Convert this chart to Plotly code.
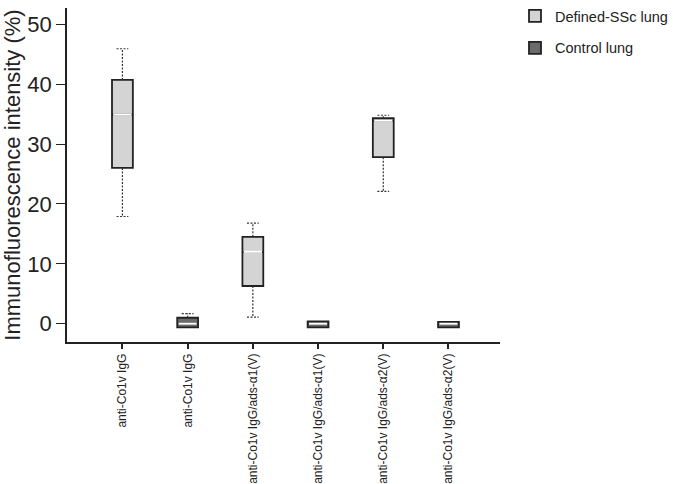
import plotly.graph_objects as go

categories = ["anti-Co1v IgG", "anti-Co1v IgG",
              "anti-Co1v IgG/ads-α1(V)", "anti-Co1v IgG/ads-α1(V)",
              "anti-Co1v IgG/ads-α2(V)", "anti-Co1v IgG/ads-α2(V)"]

ssc_pos = [0, 2, 4]
ssc_low = [17.9, 1.1, 22.1]
ssc_q1 = [26.0, 6.3, 27.8]
ssc_med = [34.9, 12.0, 33.9]
ssc_q3 = [40.7, 14.5, 34.3]
ssc_high = [45.9, 16.8, 34.8]

ctl_pos = [1, 3, 5]
ctl_low = [-0.6, -0.6, -0.6]
ctl_q1 = [-0.6, -0.6, -0.6]
ctl_med = [0.0, 0.0, 0.0]
ctl_q3 = [1.0, 0.4, 0.3]
ctl_high = [1.7, 0.4, 0.3]

yticks = [0, 10, 20, 30, 40, 50]

BOXW = 0.32
CAPW = 0.09
MEDW = 0.14
EDGE = "#222222"

fig = go.Figure()


def add_group(name, pos, low, q1, med, q3, high, fill):
    fig.add_trace(go.Box(
        name=name, x=pos, q1=q1, median=med, q3=q3,
        lowerfence=q1, upperfence=q3, width=BOXW,
        fillcolor=fill, line=dict(color=EDGE, width=1.8),
        boxpoints=False, hoverinfo="skip", legendgroup=name,
    ))
    # whiskers and caps (dotted)
    xs, ys = [], []
    for p, lo, a, b, hi in zip(pos, low, q1, q3, high):
        if hi > b:
            xs += [p, p, None, p - CAPW, p + CAPW, None]
            ys += [b, hi, None, hi, hi, None]
        if lo < a:
            xs += [p, p, None, p - CAPW, p + CAPW, None]
            ys += [a, lo, None, lo, lo, None]
    fig.add_trace(go.Scatter(x=xs, y=ys, mode="lines",
                             line=dict(color="#333333", width=1.2, dash="2px,1.5px"),
                             showlegend=False, hoverinfo="skip"))
    # white median lines
    mx, my = [], []
    for p, m in zip(pos, med):
        mx += [p - MEDW, p + MEDW, None]
        my += [m, m, None]
    fig.add_trace(go.Scatter(x=mx, y=my, mode="lines",
                             line=dict(color="white", width=2),
                             showlegend=False, hoverinfo="skip"))


add_group("Defined-SSc lung", ssc_pos, ssc_low, ssc_q1, ssc_med, ssc_q3, ssc_high, "#d4d4d4")
add_group("Control lung", ctl_pos, ctl_low, ctl_q1, ctl_med, ctl_q3, ctl_high, "#6b6b6b")

fig.update_layout(
    width=673, height=484,
    margin=dict(l=67, r=169, t=0, b=142),
    paper_bgcolor="white", plot_bgcolor="white",
    font=dict(family="Liberation Sans, Arial, sans-serif", color="#222222"),
    showlegend=True,
    legend=dict(x=1.035, y=1.024, xanchor="left", yanchor="top",
                font=dict(size=14.5, color="#222222"),
                traceorder="grouped", tracegroupgap=10,
                bgcolor="rgba(0,0,0,0)"),
    xaxis=dict(range=[-0.85, 5.79], tickmode="array",
               tickvals=list(range(len(categories))), ticktext=categories,
               tickangle=-90, tickfont=dict(size=12),
               showline=True, linecolor="#222222", linewidth=1.5,
               ticks="outside", ticklen=5, tickwidth=1.5, tickcolor="#222222",
               showgrid=False, zeroline=False, fixedrange=True, automargin=False),
    yaxis=dict(range=[-3.05, 52.7], tickmode="array", tickvals=yticks,
               tickfont=dict(size=22),
               showline=True, linecolor="#222222", linewidth=1.5,
               ticks="outside", ticklen=9, tickwidth=1.2, tickcolor="#222222",
               showgrid=False, zeroline=False,
               title=dict(text="Immunofluorescence intensity (%)",
                          font=dict(size=22), standoff=2),
               fixedrange=True, automargin=False),
)

fig.write_html("out.html",
               config={"displayModeBar": False},
               post_script="document.body.style.margin='0';"
                           "document.documentElement.style.margin='0';"
                           "document.body.style.overflow='hidden';")
